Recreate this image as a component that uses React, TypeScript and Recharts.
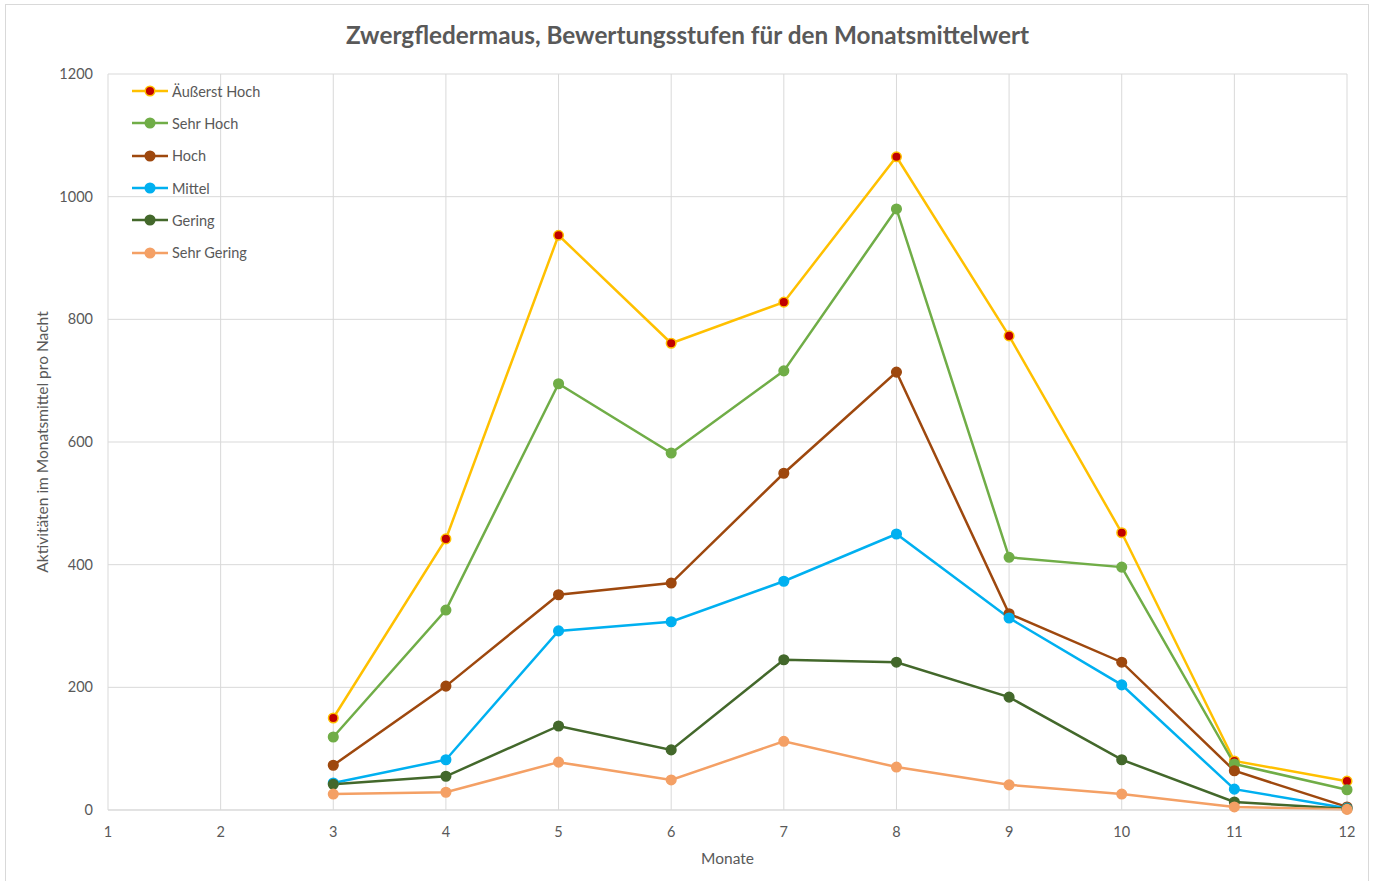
import { LineChart, Line, XAxis, YAxis, CartesianGrid } from "recharts";

const months = [1, 2, 3, 4, 5, 6, 7, 8, 9, 10, 11, 12];
const yTicks = [0, 200, 400, 600, 800, 1000, 1200];

const aeusserstHoch = [null, null, 150, 442, 937, 761, 828, 1065, 773, 452, 80, 47];
const sehrHoch = [null, null, 119, 326, 695, 582, 716, 980, 412, 396, 75, 33];
const hoch = [null, null, 73, 202, 351, 370, 549, 714, 320, 241, 64, 5];
const mittel = [null, null, 44, 82, 292, 307, 373, 450, 313, 204, 34, 3];
const gering = [null, null, 42, 55, 137, 98, 245, 241, 184, 82, 13, 2];
const sehrGering = [null, null, 26, 29, 78, 49, 112, 70, 41, 26, 5, 1];

const series = [
  { key: "aeusserstHoch", name: "Äußerst Hoch", values: aeusserstHoch, color: "#FFC000", dot: "#C00000" },
  { key: "sehrHoch", name: "Sehr Hoch", values: sehrHoch, color: "#70AD47", dot: "#70AD47" },
  { key: "hoch", name: "Hoch", values: hoch, color: "#9E480E", dot: "#9E480E" },
  { key: "mittel", name: "Mittel", values: mittel, color: "#00B0F0", dot: "#00B0F0" },
  { key: "gering", name: "Gering", values: gering, color: "#43682B", dot: "#43682B" },
  { key: "sehrGering", name: "Sehr Gering", values: sehrGering, color: "#F4A065", dot: "#F4A065" },
];

const data = months.map((m, i) => {
  const row: any = { month: m };
  series.forEach((s) => {
    row[s.key] = s.values[i];
  });
  return row;
});

const FONT = "Lato, 'Open Sans', sans-serif";
const TEXT = "#595959";

const LegendBox = () => (
  <div style={{ position: "absolute", left: 132, top: 75, fontFamily: FONT, fontSize: 14.5, color: TEXT }}>
    {series.map((s) => (
      <div key={s.key} style={{ display: "flex", alignItems: "center", height: 32.3 }}>
        <svg width={38} height={12}>
          <line x1={0} y1={6} x2={36} y2={6} stroke={s.color} strokeWidth={2.5} />
          <circle cx={18} cy={6} r={4.8} fill={s.dot} stroke={s.color} strokeWidth={1.5} />
        </svg>
        <span style={{ marginLeft: 2 }}>{s.name}</span>
      </div>
    ))}
  </div>
);

const App = () => {
  return (
    <div style={{ position: "absolute", left: 0, top: 0, width: 1375, height: 881, background: "#fff", overflow: "hidden" }}>
      <div
        style={{
          position: "absolute",
          left: 5,
          top: 4,
          width: 1362,
          height: 900,
          border: "1px solid #d9d9d9",
        }}
      />
      <div
        style={{
          position: "absolute",
          left: 0,
          top: 20,
          width: 1375,
          textAlign: "center",
          fontFamily: FONT,
          fontWeight: 700,
          fontSize: 24.3,
          color: TEXT,
        }}
      >
        Zwergfledermaus, Bewertungsstufen für den Monatsmittelwert
      </div>
      <div style={{ position: "absolute", left: 0, top: 0 }}>
        <LineChart width={1375} height={881} data={data} margin={{ top: 74, right: 28, bottom: 11, left: 48 }}>
          <CartesianGrid stroke="#d9d9d9" strokeWidth={1} verticalValues={months} />
          <XAxis
            dataKey="month"
            type="number"
            domain={[1, 12]}
            ticks={months}
            height={60}
            tickLine={false}
            tickSize={0}
            tickMargin={17}
            axisLine={{ stroke: "#d9d9d9" }}
            tick={{ fill: TEXT, fontSize: 14.5, fontFamily: FONT }}
            label={{ value: "Monate", position: "insideBottom", offset: 6, fill: TEXT, fontSize: 15.5, fontFamily: FONT }}
          />
          <YAxis
            type="number"
            domain={[0, 1200]}
            ticks={yTicks}
            width={60}
            tickLine={false}
            axisLine={false}
            tickSize={0}
            tickMargin={15}
            tick={{ fill: TEXT, fontSize: 14.5, fontFamily: FONT }}
            label={{
              value: "Aktivitäten im Monatsmittel pro Nacht",
              angle: -90,
              position: "insideLeft",
              offset: -6,
              fill: TEXT,
              fontSize: 15.5,
              fontFamily: FONT,
              style: { textAnchor: "middle" },
            }}
          />
          {series.map((s) => (
            <Line
              key={s.key}
              type="linear"
              dataKey={s.key}
              name={s.name}
              stroke={s.color}
              strokeWidth={2.5}
              dot={{ r: 4.8, fill: s.dot, stroke: s.color, strokeWidth: 1.5 }}
              activeDot={false}
              isAnimationActive={false}
            />
          ))}
        </LineChart>
      </div>
      <LegendBox />
    </div>
  );
};

export default App;
